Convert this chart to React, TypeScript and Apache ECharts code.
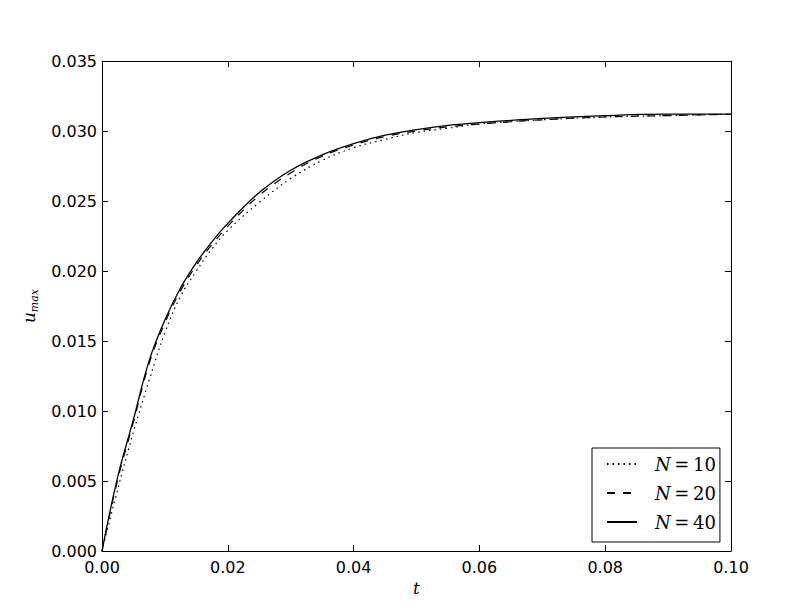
import React, { useEffect, useRef } from "react";
import * as echarts from "echarts";

const tValues = [0, 0.0025, 0.005, 0.0075, 0.01, 0.0125, 0.015, 0.0175, 0.02, 0.025, 0.03, 0.035, 0.04, 0.045, 0.05, 0.055, 0.06, 0.07, 0.08, 0.09, 0.1];
const uN10 = [0, 0.0044, 0.0085, 0.0122, 0.0156, 0.0182, 0.0200, 0.0216, 0.0229, 0.0249, 0.0266, 0.0279, 0.0288, 0.0294, 0.0299, 0.0302, 0.0305, 0.0308, 0.0310, 0.0311, 0.0312];
const uN20 = [0, 0.0051, 0.0092, 0.0134, 0.0163, 0.0186, 0.0204, 0.0219, 0.0232, 0.0254, 0.0270, 0.0282, 0.0290, 0.0296, 0.0300, 0.0303, 0.0305, 0.0308, 0.0310, 0.0311, 0.0312];
const uN40 = [0, 0.0053, 0.0094, 0.0136, 0.0165, 0.0188, 0.0206, 0.0221, 0.0234, 0.0256, 0.0272, 0.0283, 0.0291, 0.0297, 0.0301, 0.0304, 0.0306, 0.0309, 0.0311, 0.0312, 0.0312];
const seriesNames = ["N=10", "N=20", "N=40"];
const xTickDecimals = 2;
const yTickDecimals = 3;

const zip = (ys: number[]) => tValues.map((t, i) => [t, ys[i]]);

export default function App() {
  const ref = useRef<HTMLDivElement>(null);
  useEffect(() => {
    if (!ref.current) return;
    const chart = echarts.init(ref.current, undefined, { renderer: "svg" });
    const axisCommon = {
      axisLine: { show: true, onZero: false, lineStyle: { color: "#000", width: 1 } },
      axisTick: { show: true, inside: true, length: 6, lineStyle: { color: "#000", width: 1 } },
      splitLine: { show: false },
    };
    const labelStyle = { color: "#000", fontSize: 16, fontFamily: "DejaVu Sans" };
    const math = { fontFamily: "DejaVu Serif", fontStyle: "italic" as const, color: "#000" };
    chart.setOption({
      animation: false,
      backgroundColor: "#fff",
      grid: { left: 102, right: 81, top: 61, bottom: 61 },
      xAxis: [
        {
          type: "value", min: 0, max: 0.1, interval: 0.02, position: "bottom",
          ...axisCommon,
          axisLabel: { ...labelStyle, margin: 8, formatter: (v: number) => v.toFixed(xTickDecimals) },
          name: "t", nameLocation: "middle", nameGap: 28,
          nameTextStyle: { ...math, fontSize: 17 },
        },
        {
          type: "value", min: 0, max: 0.1, interval: 0.02, position: "top",
          ...axisCommon, axisLabel: { show: false },
        },
      ],
      yAxis: [
        {
          type: "value", min: 0, max: 0.035, interval: 0.005, position: "left",
          ...axisCommon,
          axisLabel: { ...labelStyle, margin: 5, formatter: (v: number) => v.toFixed(yTickDecimals) },
          name: "{u|u}{s|max}", nameLocation: "middle", nameGap: 62,
          nameTextStyle: {
            rich: {
              u: { ...math, fontSize: 17, lineHeight: 22, verticalAlign: "middle" },
              s: { ...math, fontSize: 11, lineHeight: 22, verticalAlign: "bottom", padding: [8, 0, 0, 0] },
            },
          },
        },
        {
          type: "value", min: 0, max: 0.035, interval: 0.005, position: "right",
          ...axisCommon, axisLabel: { show: false },
        },
      ],
      legend: {
        left: 592, top: 448, orient: "vertical",
        data: seriesNames,
        itemWidth: 30, itemHeight: 14, itemGap: 11,
        padding: [7, 4, 11, 14],
        borderColor: "#000", borderWidth: 1, borderRadius: 0,
        backgroundColor: "#fff",
        itemStyle: { opacity: 0 },
        formatter: (name: string) => `{sp|}{i|N}{r|\u2009=\u2009${name.slice(2)}}`,
        textStyle: {
          rich: {
            sp: { width: 13, lineHeight: 20 },
            i: { ...math, fontSize: 18, lineHeight: 20 },
            r: { fontFamily: "DejaVu Serif", color: "#000", fontSize: 18, lineHeight: 20 },
          },
        },
      },
      series: [
        {
          name: seriesNames[0], type: "line", data: zip(uN10), symbol: "none", smooth: 0.4,
          lineStyle: { color: "#000", width: 1.2, type: [1.5, 4] }, itemStyle: { color: "#000" },
        },
        {
          name: seriesNames[1], type: "line", data: zip(uN20), symbol: "none", smooth: 0.4,
          lineStyle: { color: "#000", width: 1.2, type: [8, 8] }, itemStyle: { color: "#000" },
        },
        {
          name: seriesNames[2], type: "line", data: zip(uN40), symbol: "none", smooth: 0.4,
          lineStyle: { color: "#000", width: 1.3, type: "solid" }, itemStyle: { color: "#000" },
        },
      ],
    });
    return () => chart.dispose();
  }, []);
  return <div ref={ref} style={{ width: 812, height: 612, position: "absolute", left: 0, top: 0 }} />;
}
